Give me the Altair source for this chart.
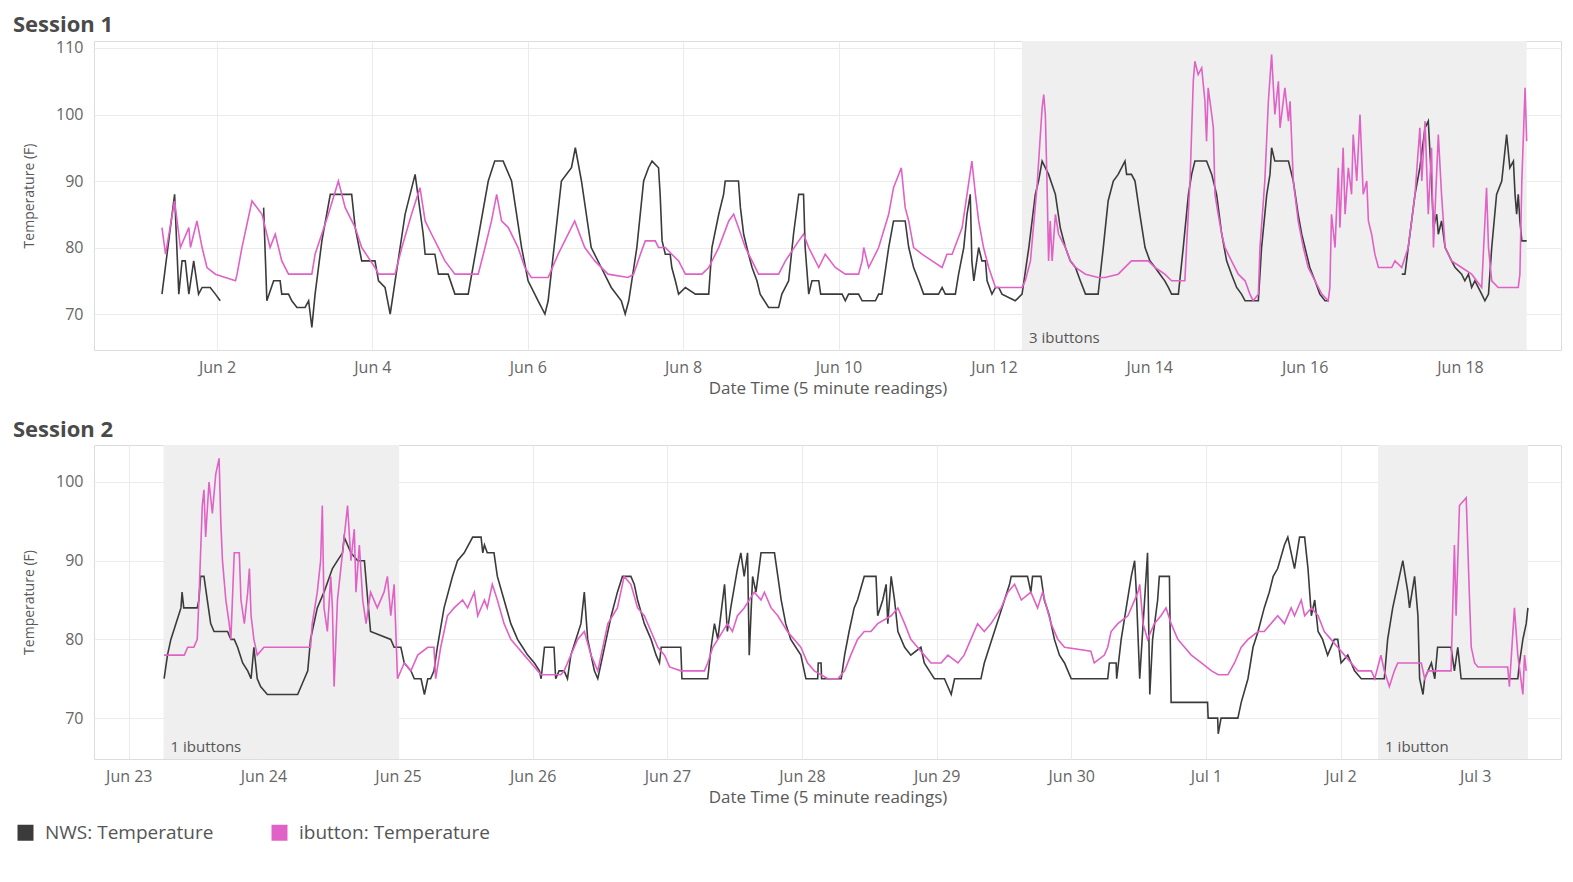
import altair as alt
import pandas as pd

SERIES = ["NWS: Temperature", "ibutton: Temperature"]
COLORS = ["#3b3b3b", "#e062c6"]

S1_START = "2016-06-01T00:00:00"
S2_START = "2016-06-23T00:00:00"

# (hours since session start, temperature F); None = gap in record
S1_NWS = [
    (7.0, 73), (10.9, 88), (12.2, 73), (13.2, 78), (14.2, 78), (15.3, 73), (16.8, 78), (18.3, 73),
    (19.4, 74), (21.9, 74), (23.5, 73), (25.0, 72), None,
    (38.4, 86), (39.4, 72), (41.5, 75), (43.5, 75), (44.0, 73), (46.1, 73), (47.1, 72), (48.7, 71),
    (51.2, 71), (52.3, 72), (53.3, 68), (54.3, 73), (56.4, 81), (59.0, 88), (65.6, 88), (66.7, 83),
    (68.7, 78), (72.8, 78), (73.9, 75), (75.9, 74), (77.5, 70), (82.1, 85), (85.2, 91), (87.7, 82),
    (88.3, 79), (91.3, 79), (92.4, 76), (95.4, 76), (97.5, 73), (101.6, 73), (107.8, 90), (109.8, 93),
    (112.4, 93), (115.0, 90), (118.1, 80), (120.1, 75), (123.2, 72), (125.3, 70), (126.3, 72),
    (130.4, 90), (133.5, 92), (134.7, 95), (136.6, 90), (139.6, 80), (142.7, 77), (145.8, 74),
    (148.9, 72), (150.1, 70), (151.2, 72), (153.7, 80), (155.8, 90), (157.3, 92), (158.4, 93),
    (160.4, 92), (160.9, 88), (161.5, 81), (162.5, 79), (164.0, 79), (164.5, 77), (165.6, 75),
    (166.6, 73), (168.7, 74), (171.8, 73), (175.9, 73), (176.9, 80), (179.0, 85), (180.5, 88),
    (181.0, 90), (185.1, 90), (185.7, 86), (186.7, 82), (188.2, 79), (189.3, 77), (190.8, 75),
    (191.8, 73), (194.4, 71), (197.5, 71), (198.5, 73), (200.6, 75), (202.1, 82), (203.7, 88),
    (205.2, 88), (205.7, 80), (206.8, 73), (207.8, 75), (209.9, 75), (210.5, 73), (217.1, 73),
    (218.1, 72), (219.1, 73), (222.2, 73), (223.3, 72), (227.4, 72), (228.4, 73), (229.4, 73),
    (231.5, 80), (233.0, 84), (236.6, 84), (237.7, 80), (239.2, 77), (240.8, 75), (242.3, 73),
    (246.9, 73), (248.0, 74), (249.0, 73), (252.1, 73), (253.1, 76), (254.7, 80), (255.7, 85),
    (256.7, 88), (257.2, 78), (257.8, 75), (259.3, 80), (260.3, 78), (261.4, 78), (261.9, 75),
    (263.4, 73), (264.5, 74), (265.5, 74), (266.5, 73), (270.6, 72), (272.7, 73), (274.8, 80),
    (276.8, 88), (277.8, 90), (278.9, 93), (280.9, 91), (283.0, 88), (284.5, 83), (286.1, 80),
    (287.6, 78), (289.2, 77), (290.7, 75), (292.3, 73), (296.2, 73), (297.8, 80), (299.3, 87),
    (300.9, 90), (302.4, 91), (304.5, 93), (305.0, 91), (306.5, 91), (307.6, 90), (309.1, 85),
    (310.7, 80), (312.2, 78), (313.8, 77), (315.3, 76), (316.8, 75), (317.9, 74), (318.9, 73),
    (321.0, 73), (322.5, 80), (324.1, 88), (325.1, 91), (326.1, 93), (329.7, 93), (331.3, 91),
    (332.8, 88), (334.4, 82), (335.9, 78), (337.4, 76), (339.0, 74), (340.5, 73), (341.6, 72),
    (345.7, 72), (346.7, 80), (348.3, 88), (349.3, 91), (349.8, 95), (350.8, 93), (355.0, 93),
    (356.5, 90), (358.0, 85), (359.1, 82), (360.1, 80), (361.6, 77), (363.2, 75), (364.7, 73),
    (366.3, 72), (367.3, 72), None,
    (390.0, 76), (391.0, 76), (392.0, 80), (394.1, 88), (395.6, 92), (397.2, 98), (398.2, 99),
    (399.2, 90), (399.8, 83), (400.8, 85), (401.3, 82), (402.3, 84), (403.4, 80), (404.4, 79),
    (405.4, 78), (406.5, 77), (408.5, 76), (409.5, 75), (410.6, 76), (411.6, 74), (412.6, 75),
    (414.7, 73), (415.7, 72), (416.8, 73), (417.8, 80), (419.3, 88), (420.9, 90), (422.4, 97),
    (423.4, 92), (424.5, 93), (425.0, 88), (425.5, 85), (426.0, 88), (426.5, 84), (427.1, 81),
    (428.6, 81),
]

S1_IBUTTON = [
    (7.0, 83), (8.1, 79), (10.9, 87), (12.7, 80), (15.3, 83), (15.8, 80), (17.8, 84), (19.4, 80),
    (20.9, 77), (23.5, 76), (29.7, 75), (30.2, 76), (31.7, 80), (34.8, 87), (37.9, 85), (40.4, 80),
    (42.0, 82), (44.0, 78), (46.1, 76), (53.3, 76), (54.3, 79), (58.4, 85), (61.5, 90), (63.6, 86),
    (66.7, 83), (68.7, 80), (72.8, 77), (73.9, 76), (79.0, 76), (81.1, 80), (84.1, 85), (86.7, 89),
    (88.3, 84), (90.3, 82), (92.4, 80), (94.4, 78), (97.5, 76), (104.7, 76), (106.8, 80),
    (108.8, 84), (110.4, 88), (111.9, 84), (114.0, 83), (117.0, 80), (119.1, 77), (121.1, 75.5),
    (126.3, 75.5), (129.4, 79), (134.5, 84), (137.6, 80), (140.7, 78), (144.8, 76), (151.0, 75.5),
    (152.7, 76), (154.8, 79), (156.3, 81), (159.4, 81), (160.4, 80), (162.5, 80), (164.5, 79),
    (166.6, 78), (168.7, 76), (173.8, 76), (175.9, 77), (179.0, 80), (182.1, 84), (183.6, 85),
    (185.1, 83), (187.2, 80), (189.3, 78), (191.3, 76), (197.5, 76), (199.6, 78), (203.7, 81),
    (205.2, 82), (206.8, 80), (209.9, 77), (211.9, 79), (215.0, 77), (218.1, 76), (222.2, 76),
    (223.3, 78), (223.8, 80), (225.3, 77), (227.4, 79), (228.4, 80), (231.5, 85), (233.0, 89),
    (235.4, 92), (236.6, 86), (237.7, 84), (239.2, 80), (241.8, 79), (244.9, 78), (248.0, 77),
    (249.5, 79), (251.1, 79), (254.2, 83), (255.7, 88), (257.2, 93), (258.3, 88), (259.3, 84),
    (260.8, 80), (262.4, 77), (264.5, 74), (272.7, 74), (273.7, 75), (275.3, 78), (277.3, 89),
    (278.9, 101), (279.4, 103), (279.9, 100), (280.4, 90), (280.9, 78), (281.4, 84), (282.0, 78),
    (283.0, 85), (284.0, 82), (286.1, 80), (287.6, 78), (289.2, 77), (292.3, 76), (296.2, 75.5),
    (298.3, 75.5), (302.4, 76), (306.5, 78), (311.7, 78), (313.8, 77), (316.8, 76), (318.9, 75),
    (323.0, 75), (323.5, 80), (324.6, 90), (325.6, 105), (326.1, 108), (327.1, 106), (328.2, 107),
    (329.2, 102), (329.7, 96), (330.2, 104), (331.3, 100), (331.8, 98), (332.3, 88), (333.3, 85),
    (334.4, 82), (335.4, 80), (337.4, 78), (339.5, 76), (341.6, 75), (343.1, 73), (344.1, 72),
    (345.7, 73), (346.2, 80), (347.7, 90), (348.8, 102), (349.8, 109), (350.8, 100), (351.9, 105),
    (352.4, 98), (353.9, 104), (355.0, 99), (355.5, 102), (356.5, 90), (358.0, 84), (359.6, 80),
    (361.1, 77), (363.2, 75), (365.3, 73), (367.3, 72), (367.8, 74), (368.3, 85), (369.4, 80),
    (370.4, 92), (370.9, 83), (371.9, 95), (372.5, 85), (373.5, 92), (374.5, 88), (375.0, 97),
    (376.1, 90), (377.1, 100), (378.1, 88), (379.2, 90), (379.7, 84), (380.7, 82), (381.7, 79),
    (382.8, 77), (386.9, 77), (387.9, 78), (390.0, 77), (392.0, 80), (394.1, 88), (395.6, 98),
    (396.2, 90), (397.2, 99), (398.2, 85), (399.2, 95), (399.8, 80), (401.3, 97), (402.3, 88),
    (403.4, 80), (405.4, 78), (408.5, 77), (411.6, 76), (414.7, 74), (416.2, 89), (416.8, 80),
    (417.8, 75), (419.8, 74), (426.0, 74), (426.5, 76), (427.1, 90), (428.1, 104), (428.6, 96),
]

S2_NWS = [
    (6.3, 75), (6.9, 78), (7.5, 80), (8.4, 82), (9.3, 84), (9.5, 86), (9.8, 84), (12.2, 84),
    (12.5, 85), (12.8, 88), (13.4, 88), (14.0, 85), (14.6, 82), (15.2, 81), (17.6, 81), (18.2, 80),
    (18.8, 80), (19.4, 79), (20.3, 77), (21.2, 76), (21.8, 75), (22.3, 79), (22.9, 75), (23.5, 74),
    (24.7, 73), (30.1, 73), (31.3, 75), (31.9, 76), (32.4, 80), (33.6, 84), (34.8, 86), (36.3, 89),
    (37.2, 90), (38.1, 91), (38.4, 93), (39.6, 91), (40.8, 90), (42.0, 90), (42.6, 85), (43.1, 81),
    (46.7, 80), (47.3, 79), (48.5, 79), (49.1, 77), (50.3, 76), (50.9, 75), (52.1, 75), (52.7, 73),
    (53.3, 75), (53.8, 75), (54.4, 76), (55.0, 79), (56.2, 84), (57.7, 88), (58.6, 90), (59.8, 91),
    (61.3, 93), (62.8, 93), (63.1, 91), (63.4, 92), (63.9, 91), (65.1, 91), (65.7, 88), (66.9, 85),
    (68.1, 82), (69.3, 80), (70.2, 79), (71.1, 78), (72.3, 77), (73.2, 76), (73.5, 75), (74.1, 79),
    (75.8, 79), (76.1, 75), (76.7, 76), (77.6, 76), (78.2, 75), (78.8, 78), (79.7, 80), (80.6, 82),
    (81.2, 86), (81.8, 80), (83.0, 76), (83.6, 75), (84.2, 77), (85.1, 80), (86.0, 83), (87.1, 86),
    (88.0, 88), (89.5, 88), (90.1, 87), (90.7, 85), (91.9, 82), (93.1, 80), (94.0, 78), (94.6, 77),
    (94.9, 79), (98.4, 79), (98.6, 75), (103.2, 75), (103.8, 79), (104.4, 82), (105.0, 80),
    (106.2, 87), (106.7, 81), (107.3, 84), (108.5, 89), (109.1, 91), (109.7, 88), (110.3, 91),
    (110.6, 78), (111.2, 88), (111.8, 86), (112.7, 91), (115.1, 91), (115.7, 88), (116.3, 85),
    (117.1, 82), (118.0, 80), (118.9, 79), (119.8, 78), (120.4, 76), (120.7, 75), (122.8, 75),
    (122.9, 77), (123.4, 77), (123.5, 75), (127.0, 75), (127.6, 78), (128.4, 81), (129.3, 84),
    (129.9, 85), (131.1, 88), (133.2, 88), (133.5, 83), (134.4, 85), (135.0, 87), (135.3, 82),
    (135.9, 88), (136.5, 85), (137.1, 81), (138.3, 79), (139.4, 78), (141.2, 79), (141.8, 77),
    (142.7, 76), (143.6, 75), (145.4, 75), (146.6, 73), (147.2, 75), (151.9, 75), (152.5, 77),
    (153.4, 79), (154.3, 81), (155.2, 83), (156.1, 85), (157.0, 87), (157.3, 88), (160.2, 88),
    (160.8, 86), (161.1, 88), (162.6, 88), (163.2, 85), (164.1, 83), (165.0, 80), (165.9, 78),
    (166.8, 77), (167.4, 76), (168.0, 75), (174.5, 75), (174.8, 77), (176.0, 77), (176.1, 75),
    (176.9, 80), (177.8, 84), (178.7, 88), (179.3, 90), (179.6, 86), (180.2, 75), (181.6, 91),
    (182.0, 73), (182.5, 80), (183.4, 85), (183.7, 88), (185.5, 88), (185.8, 72), (192.3, 72),
    (192.4, 70), (194.1, 70), (194.2, 68), (194.7, 70), (197.7, 70), (198.3, 72), (199.5, 75),
    (200.4, 79), (201.3, 81), (202.4, 84), (203.3, 86), (204.0, 88), (204.8, 89), (206.0, 92),
    (206.6, 93), (207.8, 89), (208.7, 93), (209.6, 93), (210.2, 89), (210.8, 83), (211.4, 85),
    (212.0, 81), (212.8, 80), (213.7, 78), (214.9, 80), (215.5, 80), (216.1, 77), (217.3, 78),
    (217.9, 77), (218.5, 76), (219.7, 75), (223.8, 75), (224.4, 80), (225.3, 84), (226.2, 87),
    (227.1, 90), (228.0, 86), (228.3, 84), (229.2, 88), (229.8, 83), (230.1, 75), (230.7, 73),
    (231.0, 75), (232.2, 77), (232.8, 75), (233.3, 79), (235.7, 79), (236.3, 76), (236.9, 79),
    (237.5, 75), (247.6, 75), (247.9, 77), (248.5, 80), (249.1, 82), (249.4, 84),
]

S2_IBUTTON = [
    (6.3, 78), (9.9, 78), (10.5, 79), (11.6, 79), (12.2, 80), (12.5, 85), (13.1, 97), (13.4, 99),
    (13.7, 93), (14.3, 100), (14.9, 96), (15.5, 101), (16.1, 103), (16.4, 95), (16.7, 90),
    (17.3, 85), (17.9, 82), (18.2, 80), (18.8, 91), (19.7, 91), (20.0, 85), (20.6, 82), (21.2, 86),
    (21.5, 89), (21.8, 83), (22.3, 80), (22.9, 78), (24.1, 79), (32.4, 79), (32.7, 82), (33.6, 86),
    (34.2, 90), (34.5, 97), (34.8, 84), (35.4, 81), (36.0, 88), (36.3, 84), (36.6, 74), (37.2, 85),
    (39.0, 97), (39.6, 90), (40.2, 94), (40.5, 86), (41.1, 92), (41.7, 85), (42.3, 82), (43.1, 86),
    (44.3, 84), (45.5, 86), (46.1, 88), (46.7, 83), (47.3, 87), (47.9, 75), (49.1, 77), (50.3, 76),
    (51.5, 78), (53.3, 79), (54.4, 79), (54.7, 75), (55.6, 79), (56.8, 83), (58.0, 84), (59.5, 85),
    (60.4, 84), (61.6, 86), (62.2, 83), (63.4, 85), (63.9, 84), (64.8, 87), (65.7, 85), (66.9, 82),
    (68.1, 80), (69.3, 79), (70.5, 78), (71.7, 77), (72.9, 76), (73.5, 75.5), (77.0, 75.5),
    (77.6, 76), (78.8, 78), (80.0, 80), (81.2, 81), (82.4, 78), (83.6, 76), (84.5, 79), (85.4, 82),
    (87.1, 84), (88.3, 88), (89.5, 87), (90.7, 84), (91.9, 83), (93.1, 81), (94.3, 79), (95.5, 78),
    (96.4, 76.5), (98.4, 76), (102.6, 76), (103.2, 77), (104.1, 79), (105.0, 80), (106.7, 82),
    (107.6, 81), (108.5, 83), (109.7, 84), (111.5, 86), (112.7, 85), (113.3, 86), (114.5, 84),
    (115.7, 83), (117.4, 81), (118.6, 80), (119.8, 79), (121.0, 77), (122.2, 76), (124.6, 75),
    (126.4, 75), (127.6, 76), (128.7, 78), (129.9, 80), (131.1, 81), (132.3, 81), (133.5, 82),
    (135.9, 83), (137.1, 84), (138.3, 82), (139.4, 80), (140.6, 79), (141.8, 78), (143.0, 77),
    (144.8, 77), (146.0, 78), (147.8, 77), (148.9, 78), (150.1, 80), (151.3, 82), (152.5, 81),
    (153.7, 82), (155.5, 84), (156.7, 86), (157.9, 87), (159.1, 85), (160.8, 86), (162.0, 84),
    (162.9, 86), (164.4, 82), (165.6, 80), (166.8, 79), (171.5, 78.5), (172.1, 77), (173.9, 78),
    (174.5, 79), (175.1, 81), (176.3, 82), (178.1, 83), (179.9, 86), (180.2, 87), (180.8, 82),
    (181.6, 80), (182.8, 82), (184.0, 83), (184.9, 84), (185.8, 82), (187.0, 80), (188.2, 79),
    (189.4, 78), (191.2, 77), (193.0, 76), (194.2, 75.5), (195.9, 75.5), (197.1, 77), (198.3, 79),
    (199.5, 80), (201.3, 81), (202.4, 81), (203.6, 82), (204.8, 83), (206.0, 82), (207.2, 84),
    (207.8, 83), (209.0, 85), (209.6, 83), (210.8, 84), (212.0, 83), (213.1, 81), (214.3, 80),
    (215.5, 79), (216.7, 78), (217.9, 77), (219.1, 76), (221.5, 76), (222.1, 75), (223.2, 78),
    (223.8, 76), (224.7, 74), (225.6, 76), (226.2, 77), (230.4, 77), (231.0, 75), (231.6, 76),
    (235.7, 76), (236.3, 92), (236.6, 83), (237.2, 97), (238.4, 98), (239.0, 85), (239.3, 79),
    (239.9, 77), (240.5, 76.5), (245.8, 76.5), (246.1, 74), (247.0, 84), (247.6, 78), (248.5, 73),
    (248.8, 78), (249.1, 76),
]

# shaded periods: (start hour, end hour, label)
S1_SHADE = [(272.7, 428.6, "3 ibuttons")]
S2_SHADE = [(6.2, 48.2, "1 ibuttons"), (222.7, 249.4, "1 ibutton")]

S1_XTICK_DAYS = [(6, 2), (6, 4), (6, 6), (6, 8), (6, 10), (6, 12), (6, 14), (6, 16), (6, 18)]
S2_XTICK_DAYS = [(6, 23), (6, 24), (6, 25), (6, 26), (6, 27), (6, 28), (6, 29), (6, 30),
                 (7, 1), (7, 2), (7, 3)]
S1_YTICKS = [70, 80, 90, 100, 110]
S2_YTICKS = [70, 80, 90, 100]
S1_XRANGE = (-14.0, 439.2)
S2_XRANGE = (-6.2, 255.3)
S1_YRANGE = (64.6, 111.05)
S2_YRANGE = (64.8, 104.7)

FONT = "Open Sans"
PANEL_W = 1467


def iso(ts):
    return ts.strftime("%Y-%m-%dT%H:%M:%S")


def dt(ts):
    return alt.DateTime(year=ts.year, month=ts.month, date=ts.day,
                        hours=ts.hour, minutes=ts.minute)


def rows(points, t0, series):
    out, seg = [], 0
    for p in points:
        if p is None:
            seg += 1
            continue
        h, t = p
        out.append({"time": iso(t0 + pd.Timedelta(hours=h)), "temp": t,
                    "series": series, "seg": f"{series}-{seg}"})
    return out


def panel(start, nws, ib, shades, xr, yr, yticks, xtick_days, height, title):
    t0 = pd.Timestamp(start)
    lines = pd.DataFrame(rows(nws, t0, SERIES[0]) + rows(ib, t0, SERIES[1]))
    shade_df = pd.DataFrame([
        {"time": iso(t0 + pd.Timedelta(hours=a)), "time_end": iso(t0 + pd.Timedelta(hours=b)),
         "label": lab, "ybase": yr[0]} for a, b, lab in shades])
    xscale = alt.Scale(domain=[dt(t0 + pd.Timedelta(hours=xr[0])),
                               dt(t0 + pd.Timedelta(hours=xr[1]))])
    yscale = alt.Scale(domain=list(yr), nice=False, zero=False)
    xaxis = alt.Axis(values=[alt.DateTime(year=2016, month=m, date=d) for m, d in xtick_days],
                     format="%b %-d", title="Date Time (5 minute readings)",
                     labelPadding=9, titlePadding=5)
    yaxis = alt.Axis(values=yticks, title="Temperature (F)", labelPadding=11,
                     titlePadding=19, titleFontSize=14)
    X = alt.X("time:T", scale=xscale, axis=xaxis)
    color = alt.Color("series:N", scale=alt.Scale(domain=SERIES, range=COLORS),
                      legend=alt.Legend(title=None))

    shade = alt.Chart(shade_df).mark_rect(color="#efefef").encode(
        x=X, x2="time_end:T")
    text = alt.Chart(shade_df).mark_text(
        align="left", baseline="bottom", dx=7, dy=-4, fontSize=15, color="#555555", font=FONT
    ).encode(x=X, y=alt.Y("ybase:Q", scale=yscale, axis=yaxis), text="label:N")
    nws_line = alt.Chart(lines).transform_filter(alt.datum.series == SERIES[0]).mark_line(
        strokeWidth=1.6).encode(x=X, y=alt.Y("temp:Q", scale=yscale, axis=yaxis),
                                color=color, detail="seg:N")
    ib_line = alt.Chart(lines).transform_filter(alt.datum.series == SERIES[1]).mark_line(
        strokeWidth=1.6).encode(x=X, y=alt.Y("temp:Q", scale=yscale, axis=yaxis),
                                color=color, detail="seg:N")
    return alt.layer(shade, text, nws_line, ib_line).properties(
        width=PANEL_W, height=height,
        title=alt.TitleParams(title, anchor="start", frame="group", dx=-81, offset=3,
                              fontSize=22, fontWeight="bold", color="#4a4a4a", font=FONT))


p1 = panel(S1_START, S1_NWS, S1_IBUTTON, S1_SHADE, S1_XRANGE, S1_YRANGE, S1_YTICKS,
           S1_XTICK_DAYS, 309, "Session 1")
p2 = panel(S2_START, S2_NWS, S2_IBUTTON, S2_SHADE, S2_XRANGE, S2_YRANGE, S2_YTICKS,
           S2_XTICK_DAYS, 314, "Session 2")

chart = alt.vconcat(p1, p2, spacing=21).resolve_scale(
    x="independent", y="independent", color="shared"
).configure(
    padding={"left": 4, "top": 5, "right": 0, "bottom": 0}, background="white"
).configure_axis(
    labelFont=FONT, labelFontSize=16, labelColor="#666666",
    titleFont=FONT, titleFontSize=17, titleColor="#595959", titleFontWeight="normal",
    domain=False, ticks=False, grid=True, gridColor="#ebebeb", gridWidth=1
).configure_view(
    stroke="#dcdcdc", strokeWidth=1
).configure_legend(
    orient="none", legendX=-78, legendY=782, direction="horizontal",
    symbolType="square", symbolSize=64, symbolStrokeWidth=8,
    labelFont=FONT, labelFontSize=19, labelColor="#555555", columnPadding=45,
    labelOffset=10, labelLimit=0
)

chart.save("out.html", embed_options={"renderer": "svg", "actions": False})
